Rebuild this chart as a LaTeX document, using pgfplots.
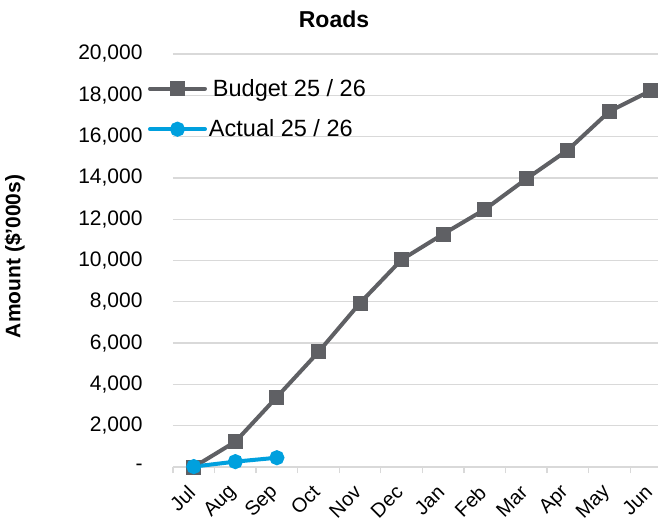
\documentclass[border=0pt]{standalone}
\usepackage{pgfplots}
\pgfplotsset{compat=1.18}
\usepackage{fontspec}
\setmainfont{Liberation Sans}

\definecolor{budgetgray}{RGB}{95,96,100}
\definecolor{actualblue}{RGB}{0,160,222}
\definecolor{gridgray}{RGB}{217,217,217}

\begin{document}
\begin{tikzpicture}
\begin{axis}[
    name=ax,
    scale only axis,
    width=485pt, height=413pt,
    xmin=-0.5, xmax=11.17,
    ymin=0, ymax=20000,
    clip=false,
    scaled y ticks=false,
    axis lines*=left,
    y axis line style={draw=none},
    x axis line style={draw=gridgray, line width=1.3pt},
    xtick={0,1,2,3,4,5,6,7,8,9,10,11},
    xticklabels={Jul,Aug,Sep,Oct,Nov,Dec,Jan,Feb,Mar,Apr,May,Jun},
    minor xtick={-0.5,0.5,1.5,2.5,3.5,4.5,5.5,6.5,7.5,8.5,9.5,10.5},
    major x tick style={draw=none},
    minor x tick style={draw=gridgray, line width=1.3pt},
    minor tick length=6pt,
    tick align=outside,
    % shifts are in the rotated frame
    xticklabel style={rotate=45, anchor=east, inner sep=1pt, xshift=-13pt, yshift=-11pt,
        font=\fontsize{20}{24}\selectfont},
    ytick={0,2000,4000,6000,8000,10000,12000,14000,16000,18000,20000},
    yticklabels={-,{2,000},{4,000},{6,000},{8,000},{10,000},{12,000},{14,000},{16,000},{18,000},{20,000}},
    major y tick style={draw=none},
    yticklabel style={anchor=east, inner sep=0pt, xshift=-26pt, font=\fontsize{21}{25}\selectfont},
    ymajorgrids=true,
    grid style={draw=gridgray, line width=1.3pt},
    title={\bfseries Roads},
    title style={at={(0.332,1)}, anchor=base, yshift=21pt, font=\fontsize{23}{28}\selectfont},
    ylabel={\bfseries Amount (\$'000s)},
    ylabel style={at={(axis description cs:-0.326,0.51)}, anchor=center, font=\fontsize{21}{25}\selectfont},
    legend image code/.code={\draw[mark repeat=2, mark phase=2, #1] plot coordinates {(0pt,0pt) (27.5pt,0pt) (55pt,0pt)};},
    legend style={at={(axis description cs:-0.052,0.867)}, anchor=west, draw=none, fill=none,
        inner sep=0pt, row sep=18pt, font=\fontsize{23.5}{28}\selectfont},
    legend cell align=left,
]

\addplot[color=budgetgray, line width=4pt, mark=square*, mark size=5.5pt, line cap=round] coordinates {
    (0,0)(1,1225)(2,3390)(3,5570)(4,7940)(5,10040)(6,11280)(7,12470)(8,13950)(9,15350)(10,17220)(11,18230)
};
\addlegendentry{\hspace{4pt}Budget 25 / 26}

\addplot[color=actualblue, line width=4pt, mark=*, mark size=5.5pt, line cap=round] coordinates {
    (0,20)(1,260)(2,450)
};
\addlegendentry{Actual 25 / 26}

\end{axis}
\pgfresetboundingbox
\path ([shift={(-173pt,467pt)}]ax.south west) rectangle ([shift={(485pt,-61pt)}]ax.south west);
\end{tikzpicture}
\end{document}
